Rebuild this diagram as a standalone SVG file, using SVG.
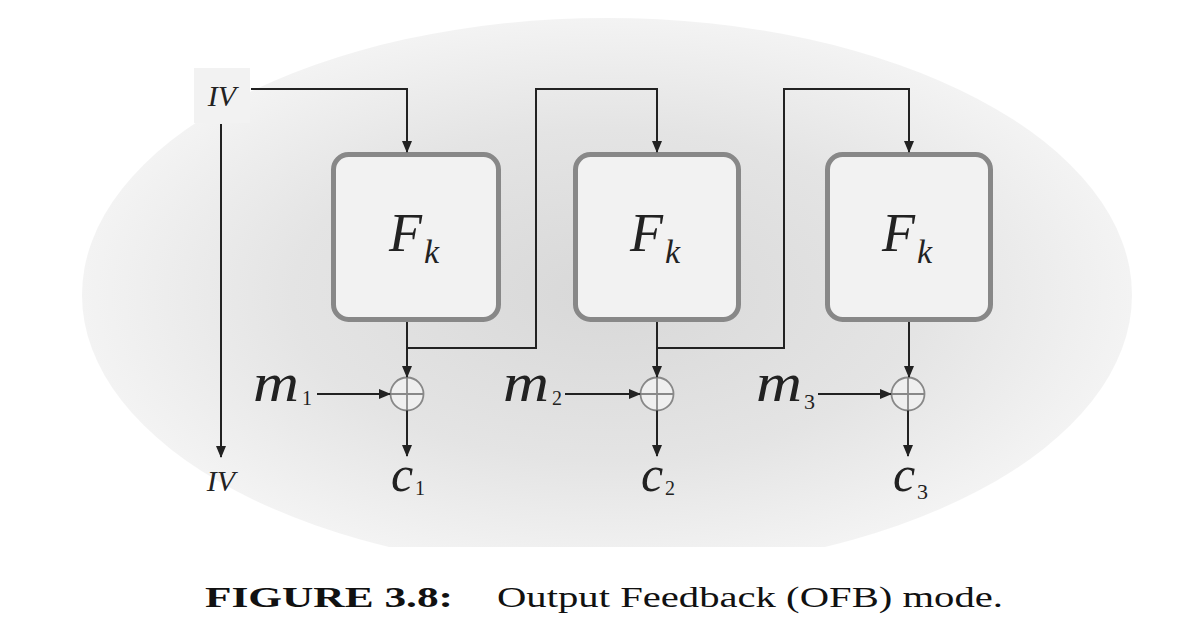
<svg xmlns="http://www.w3.org/2000/svg" width="1194" height="624" viewBox="0 0 1194 624">
<defs>
<radialGradient id="bg" cx="0.5" cy="0.5" r="0.5">
<stop offset="0" stop-color="#d8d8d8"/>
<stop offset="0.6" stop-color="#e4e4e4"/>
<stop offset="1" stop-color="#f3f3f3"/>
</radialGradient>
<clipPath id="cl"><rect x="0" y="0" width="1194" height="547"/></clipPath>
<marker id="ah" markerWidth="12" markerHeight="12" refX="11" refY="6" orient="auto" markerUnits="userSpaceOnUse">
<path d="M0,1 L12,6 L0,11 Z" fill="#222"/>
</marker>
<style>
.blk{fill:#f2f2f2;stroke:#888;stroke-width:5}
.xor{fill:#efefef;stroke:#888;stroke-width:1.8}
.ln{fill:none;stroke:#222;stroke-width:2}
.m{font-family:"Liberation Serif","DejaVu Serif",serif;font-style:italic;fill:#222}
.sub{font-family:"Liberation Serif","DejaVu Serif",serif;fill:#222}
.cap{font-family:"Liberation Serif","DejaVu Serif",serif;fill:#111}
</style>
</defs>
<ellipse cx="607" cy="295" rx="525" ry="277" fill="url(#bg)" clip-path="url(#cl)"/>

<g id="iv-top"><rect x="194" y="68" width="56" height="55" fill="#f2f2f2"/><text class="m" x="222" y="106" font-size="30" text-anchor="middle">IV</text></g>
<g id="iv-bottom"><text class="m" x="221" y="491" font-size="30" text-anchor="middle">IV</text></g>

<g id="f1"><rect class="blk" x="333.5" y="154.5" width="165" height="165" rx="15"/><text class="m" x="389" y="251" font-size="54">F</text><text class="m" x="424" y="263" font-size="34">k</text></g>
<g id="f2"><rect class="blk" x="575.5" y="154.5" width="163" height="165" rx="15"/><text class="m" x="630" y="251" font-size="54">F</text><text class="m" x="665" y="263" font-size="34">k</text></g>
<g id="f3"><rect class="blk" x="827.5" y="154.5" width="163" height="165" rx="15"/><text class="m" x="882" y="251" font-size="54">F</text><text class="m" x="917" y="263" font-size="34">k</text></g>

<g id="x1"><circle class="xor" cx="407" cy="394" r="16.5"/><path d="M390.5,394H423.5M407,377.5V410.5" stroke="#888" stroke-width="1.8"/></g>
<g id="x2"><circle class="xor" cx="657" cy="394" r="16.5"/><path d="M640.5,394H673.5M657,377.5V410.5" stroke="#888" stroke-width="1.8"/></g>
<g id="x3"><circle class="xor" cx="908" cy="394" r="16.5"/><path d="M891.5,394H924.5M908,377.5V410.5" stroke="#888" stroke-width="1.8"/></g>

<g id="m1"><text class="m" x="253" y="401" font-size="54" textLength="46" lengthAdjust="spacingAndGlyphs">m</text><text class="sub" x="302" y="405" font-size="20">1</text></g>
<g id="m2"><text class="m" x="503" y="401" font-size="54" textLength="46" lengthAdjust="spacingAndGlyphs">m</text><text class="sub" x="552" y="405" font-size="20">2</text></g>
<g id="m3"><text class="m" x="756" y="401" font-size="54" textLength="46" lengthAdjust="spacingAndGlyphs">m</text><text class="sub" x="804" y="409" font-size="22">3</text></g>

<g id="c1"><text class="m" x="391" y="491" font-size="50">c</text><text class="sub" x="415" y="495" font-size="20">1</text></g>
<g id="c2"><text class="m" x="641" y="491" font-size="50">c</text><text class="sub" x="665" y="495" font-size="20">2</text></g>
<g id="c3"><text class="m" x="893" y="491" font-size="50">c</text><text class="sub" x="917" y="499" font-size="22">3</text></g>

<g id="connectors">
<path class="ln" d="M251,89H407V152" marker-end="url(#ah)"/>
<path class="ln" d="M221,124V457" marker-end="url(#ah)"/>
<path class="ln" d="M407,322V377" marker-end="url(#ah)"/>
<path class="ln" d="M407,348H536V89H657V152" marker-end="url(#ah)"/>
<path class="ln" d="M657,322V377" marker-end="url(#ah)"/>
<path class="ln" d="M657,348H784V89H909V152" marker-end="url(#ah)"/>
<path class="ln" d="M909,322V377" marker-end="url(#ah)"/>
<path class="ln" d="M317,394H390" marker-end="url(#ah)"/>
<path class="ln" d="M565,394H640" marker-end="url(#ah)"/>
<path class="ln" d="M818,394H891" marker-end="url(#ah)"/>
<path class="ln" d="M407,410.5V456" marker-end="url(#ah)"/>
<path class="ln" d="M657,410.5V456" marker-end="url(#ah)"/>
<path class="ln" d="M908,410.5V456" marker-end="url(#ah)"/>
</g>

<g id="caption">
<text class="cap" x="205" y="607" font-size="30" font-weight="bold" textLength="248" lengthAdjust="spacingAndGlyphs">FIGURE 3.8:</text>
<text class="cap" x="497" y="607" font-size="30" textLength="506" lengthAdjust="spacingAndGlyphs">Output Feedback (OFB) mode.</text>
</g>
</svg>
